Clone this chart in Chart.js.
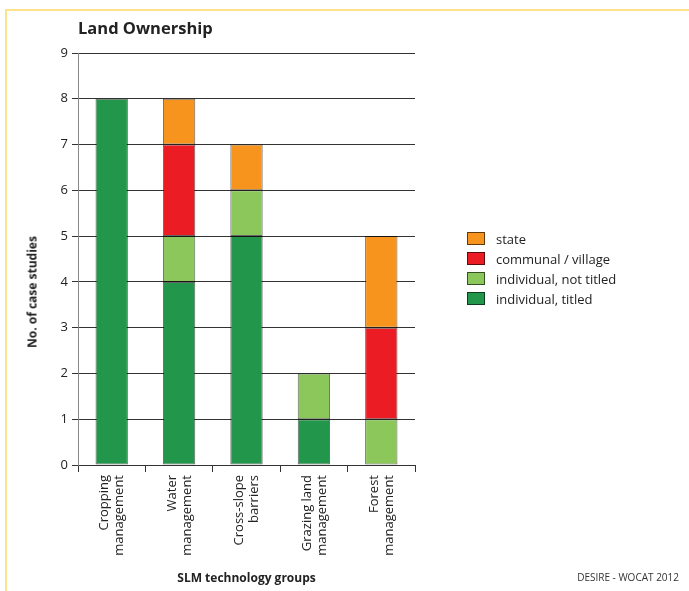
<!DOCTYPE html>
<html>
<head>
<meta charset="utf-8">
<script src="https://cdn.jsdelivr.net/npm/chart.js@4/dist/chart.umd.min.js"></script>
<style>
  body { margin: 0; background: #fff; font-family: 'Open Sans', sans-serif; }
  #wrap { position: relative; width: 689px; height: 591px; overflow: hidden; }
  #chart { position: absolute; left: 0; top: 0; }
  .frame-top { position: absolute; left: 5px; top: 9px; width: 684px; height: 2px; background: #fde38e; }
  .frame-left { position: absolute; left: 5px; top: 9px; width: 2px; height: 582px; background: #fde38e; }
  #title { position: absolute; left: 78px; top: 16px; font-size: 16.5px; font-weight: bold; color: #222; }
  #ytitle { position: absolute; left: 32px; top: 292px; transform: translate(-50%, -50%) rotate(-90deg);
            font-size: 12px; font-weight: bold; color: #222; white-space: nowrap; }
  #footer { position: absolute; right: 10px; top: 570px; font-size: 10px; color: #333; }
  #legend { position: absolute; left: 467px; top: 230px; font-size: 13px; color: #222; }
  #legend div { height: 20px; line-height: 18px; white-space: nowrap; }
  #legend span.box { display: inline-block; width: 16px; height: 11px; border: 1px solid rgba(0,0,0,0.6);
                     vertical-align: -1px; margin-right: 11px; }
</style>
</head>
<body>
<div id="wrap">
  <div class="frame-top"></div>
  <div class="frame-left"></div>
  <canvas id="chart" width="689" height="591"></canvas>
  <div id="title">Land Ownership</div>
  <div id="ytitle">No. of case studies</div>
  <div id="legend"></div>
  <div id="footer">DESIRE - WOCAT 2012</div>
</div>
<script>
const categories = [
  ['Cropping', 'management'],
  ['Water', 'management'],
  ['Cross-slope', 'barriers'],
  ['Grazing land', 'management'],
  ['Forest', 'management']
];

const seriesNames = ['individual, titled', 'individual, not titled', 'communal / village', 'state'];
const seriesColors = ['#22964b', '#8bc75b', '#ec1c24', '#f7941d'];

const individualTitled = [8, 4, 5, 1, 0];
const individualNotTitled = [0, 1, 1, 1, 1];
const communalVillage = [0, 2, 0, 0, 2];
const stateOwned = [0, 1, 1, 0, 2];

const yTicks = [0, 1, 2, 3, 4, 5, 6, 7, 8, 9];

const seriesValues = [individualTitled, individualNotTitled, communalVillage, stateOwned];

const datasets = seriesNames.map((name, i) => ({
  label: name,
  data: seriesValues[i],
  backgroundColor: seriesColors[i],
  borderColor: 'rgba(0,0,0,0.6)',
  borderWidth: 1,
  borderSkipped: false,
  categoryPercentage: 1,
  barPercentage: 0.48
}));

// legend, top to bottom is reverse of stacking order
const legend = document.getElementById('legend');
datasets.slice().reverse().forEach(ds => {
  const row = `<div><span class="box" style="background:${ds.backgroundColor}"></span>${ds.label}</div>`;
  legend.insertAdjacentHTML('beforeend', row);
});

new Chart(document.getElementById('chart').getContext('2d'), {
  type: 'bar',
  data: { labels: categories, datasets },
  options: {
    responsive: false,
    animation: false,
    layout: { padding: { top: 53, right: 274, left: 0, bottom: 0 } },
    plugins: { legend: { display: false }, tooltip: { enabled: false } },
    scales: {
      x: {
        stacked: true,
        afterFit: s => { s.height = 126; },
        border: { color: '#333', width: 1 },
        grid: { offset: true, drawOnChartArea: false, tickLength: 7, color: '#333' },
        ticks: {
          maxRotation: 90, minRotation: 90, padding: 3, labelOffset: -7,
          font: { family: 'Open Sans', size: 13, lineHeight: 1.15 },
          color: '#222'
        },
        title: {
          display: true, text: 'SLM technology groups', color: '#222',
          font: { family: 'Open Sans', size: 12, weight: 'bold' },
          padding: { top: 0, bottom: 5 }
        }
      },
      y: {
        stacked: true,
        min: 0, max: 9,
        afterFit: s => { s.width = 78; },
        afterBuildTicks: s => { s.ticks = yTicks.map(v => ({ value: v })); },
        border: { color: '#888', width: 1 },
        grid: { color: '#333', lineWidth: 1, tickLength: 6 },
        ticks: { font: { family: 'Open Sans', size: 13 }, color: '#222', padding: 4 }
      }
    }
  }
});
</script>
</body>
</html>
